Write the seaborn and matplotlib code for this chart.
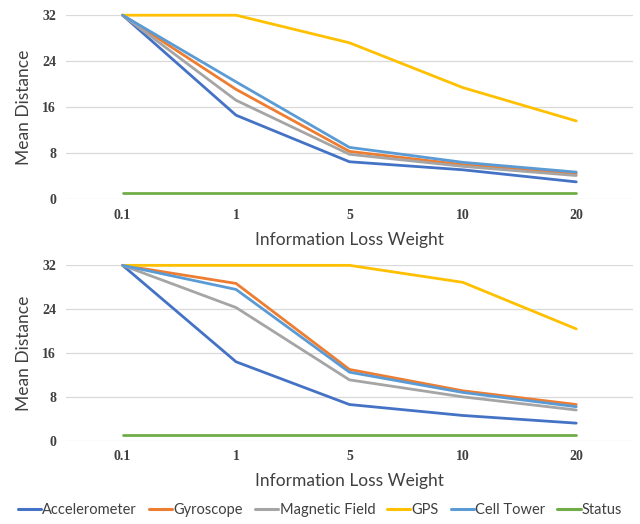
import matplotlib
matplotlib.use("Agg")
import matplotlib.pyplot as plt
import seaborn as sns
import pandas as pd

weights = ["0.1", "1", "5", "10", "20"]
sensors = ["Accelerometer", "Gyroscope", "Magnetic Field", "GPS", "Cell Tower", "Status"]
colors = ["#4472C4", "#ED7D31", "#A5A5A5", "#FFC000", "#5B9BD5", "#70AD47"]

# top chart
top_acc = [32, 14.6, 6.5, 5.1, 3.0]
top_gyro = [32, 19.1, 8.3, 6.0, 4.4]
top_mag = [32, 17.2, 7.8, 5.7, 4.1]
top_gps = [32, 32, 27.2, 19.4, 13.6]
top_cell = [32, 20.4, 9.0, 6.4, 4.7]
top_status = [1, 1, 1, 1, 1]

# bottom chart
bot_acc = [32, 14.4, 6.6, 4.6, 3.2]
bot_gyro = [32, 28.7, 13.0, 9.1, 6.6]
bot_mag = [32, 24.3, 11.1, 8.0, 5.6]
bot_gps = [32, 32, 32, 28.9, 20.4]
bot_cell = [32, 27.6, 12.5, 8.8, 6.2]
bot_status = [1, 1, 1, 1, 1]


def to_long(series):
    rows = []
    for name, vals in zip(sensors, series):
        for w, v in zip(weights, vals):
            rows.append({"weight": w, "dist": v, "sensor": name})
    return pd.DataFrame(rows)


top_df = to_long([top_acc, top_gyro, top_mag, top_gps, top_cell, top_status])
bot_df = to_long([bot_acc, bot_gyro, bot_mag, bot_gps, bot_cell, bot_status])

sns.set_style("white")
plt.rcParams["font.family"] = ["Lato", "DejaVu Sans"]

fig = plt.figure(figsize=(6.4, 5.24), dpi=100)
ax1 = fig.add_axes([0.103, 0.620, 0.886, 0.351])
ax2 = fig.add_axes([0.103, 0.159, 0.886, 0.3346])

pal = dict(zip(sensors, colors))
for ax, df in [(ax1, top_df), (ax2, bot_df)]:
    sns.lineplot(data=df, x="weight", y="dist", hue="sensor", hue_order=sensors,
                 palette=pal, sort=False, linewidth=2.0, ax=ax, legend=False)
    ax.set_xlim(-0.5, 4.5)
    ax.set_ylim(0, 32)
    ax.set_yticks([0, 8, 16, 24, 32])
    ax.yaxis.grid(True, color="#d9d9d9", linewidth=0.9)
    ax.set_axisbelow(True)
    for s in ax.spines.values():
        s.set_visible(False)
    ax.tick_params(axis="both", length=0, labelsize=10, labelcolor="#404040", pad=7)
    for lab in ax.get_xticklabels() + ax.get_yticklabels():
        lab.set_fontfamily("Liberation Serif")
        lab.set_fontweight("bold")
    ax.set_xlabel("Information Loss Weight", fontsize=12.5, color="#404040", labelpad=7)
    ax.set_ylabel("Mean Distance", fontsize=12.5, color="#404040", labelpad=7)
    for ln in ax.lines:
        ln.set_clip_on(False)

handles = [plt.Line2D([], [], color=c, linewidth=2.2) for c in colors]
fig.legend(handles, sensors, loc="center", bbox_to_anchor=(0.5, 0.027), ncol=6,
           frameon=False, fontsize=10.5, handlelength=1.6, handletextpad=0.1,
           columnspacing=0.8, labelcolor="#404040")

fig.savefig("out.png", dpi=100)
